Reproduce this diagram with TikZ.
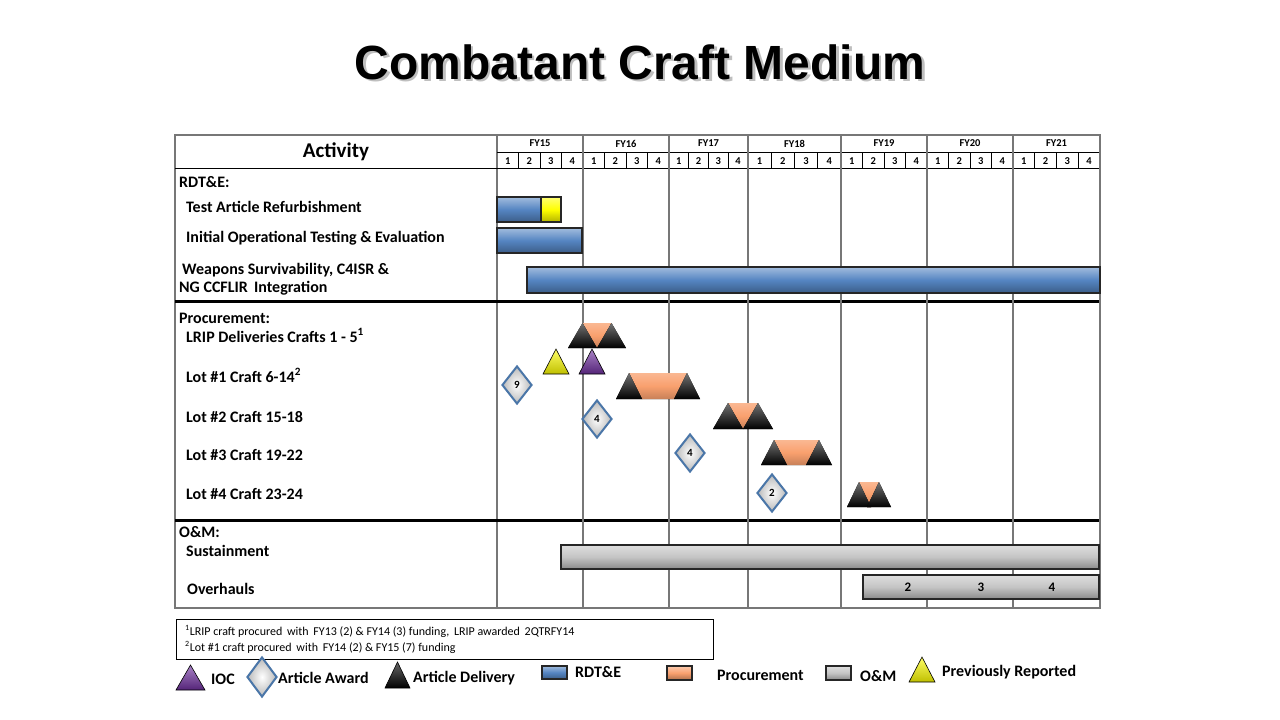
\documentclass[tikz,border=0pt]{standalone}
\usepackage{fontspec}
\setmainfont{Carlito}
\newfontfamily\titlefont{Liberation Sans}
\usepackage{tikz}
\usetikzlibrary{shapes.geometric, positioning}
\definecolor{rdtblue}{HTML}{5585C2}
\definecolor{procorange}{HTML}{F9A06E}
\definecolor{omgray}{HTML}{C4C4C4}
\definecolor{iocpurple}{HTML}{7030A0}
\definecolor{prevyellow}{HTML}{FFFF00}
\definecolor{awardblue}{HTML}{4A76A8}
\definecolor{gridgray}{HTML}{777777}

% one procurement delivery: left base, right base, triangle width, top, bottom
\newcommand{\craftdelivery}[5]{%
  \fill[top color=procorange!75!white, bottom color=procorange!80!black, middle color=procorange]
    (#1+#3/2,#4) -- (#2-#3/2,#4) -- (#2-#3,#5) -- (#1+#3,#5) -- cycle;
  \fill[top color=black!55, bottom color=black] (#1,#5) -- (#1+#3/2,#4) -- (#1+#3,#5) -- cycle;
  \fill[top color=black!55, bottom color=black] (#2-#3,#5) -- (#2-#3/2,#4) -- (#2,#5) -- cycle;
}

\begin{document}
\begin{tikzpicture}[
  x=1pt, y=-1pt,
  lbl/.style={anchor=base west, inner sep=0pt, font=\bfseries\fontsize{16}{18}\selectfont},
  hdr/.style={inner sep=0pt, font=\bfseries\fontsize{10.5}{12}\selectfont},
  note/.style={anchor=base west, inner sep=0pt, font=\fontsize{12}{14}\selectfont},
  gridline/.style={draw=gridgray, line width=1.3pt},
  bar/.style={draw=black!85, line width=1.1pt, top color=#1!55!white, bottom color=#1!70!black, middle color=#1},
  award/.style={diamond, draw=awardblue, line width=2pt, minimum width=30pt, minimum height=38pt, inner sep=0pt,
    inner color=white, outer color=gray!55, font=\bfseries\fontsize{11}{12}\selectfont},
  marker/.style={draw=black, line width=0.6pt, top color=#1!60!white, bottom color=#1!75!black}
]
\useasboundingbox[fill=white] (0,0) rectangle (1280,720);

% title
\node[text=black!25] (titleshadow) at (642.5,64.5) {\titlefont\bfseries\fontsize{48}{56}\selectfont Combatant Craft Medium};
\node (title) at (640,62) {\titlefont\bfseries\fontsize{48}{56}\selectfont Combatant Craft Medium};

% table frame
\draw[gridline] (175,135) rectangle (1100,608);
\draw[gridline] (497,135) -- (497,608);
\draw[black, line width=1pt] (497,152) -- (1100,152);
\draw[black, line width=1pt] (175,168) -- (1100,168);
\draw[black, line width=3pt] (175,301) -- (1100,301);
\draw[black, line width=3pt] (175,520) -- (1100,520);
\node[font=\bfseries\fontsize{21}{24}\selectfont, inner sep=0pt] (activity) at (336,152) {Activity};

\foreach \xa/\xb/\fy in {497/583/15, 583/669/16, 669/748/17, 748/841/18, 841/927/19, 927/1013/20, 1013/1100/21} {
  \node[hdr] (fy\fy) at ({(\xa+\xb)/2},143.5) {FY\fy};
  \foreach \q in {1,...,4}
    \node[hdr] (q\fy-\q) at ({\xa+(\q-0.5)*(\xb-\xa)/4},161) {\q};
  \foreach \q in {1,2,3}
    \draw[black, line width=0.8pt] ({\xa+\q*(\xb-\xa)/4},152) -- ({\xa+\q*(\xb-\xa)/4},168);
  \draw[gridline] (\xb,135) -- (\xb,608);
}

% activity labels
\node[lbl] (rdte) at (179,187) {RDT\&E:};
\node[lbl] (refurb) at (186,212.5) {Test Article Refurbishment};
\node[lbl] (iote) at (186,242) {Initial Operational Testing \& Evaluation};
\node[lbl] (weapons) at (182,274) {Weapons Survivability, C4ISR \&};
\node[lbl] (ngccflir) at (179,292) {NG CCFLIR\, Integration};
\node[lbl] (proc) at (179,323) {Procurement:};
\node[lbl] (lrip) at (186,342) {LRIP Deliveries Crafts 1 - 5\textsuperscript{1}};
\node[lbl] (lot1) at (186,382) {Lot \#1 Craft 6-14\textsuperscript{2}};
\node[lbl] (lot2) at (186,422) {Lot \#2 Craft 15-18};
\node[lbl] (lot3) at (186,460) {Lot \#3 Craft 19-22};
\node[lbl] (lot4) at (186,499) {Lot \#4 Craft 23-24};
\node[lbl] (om) at (179,537) {O\&M:};
\node[lbl] (sustain) at (186,556) {Sustainment};
\node[lbl] (overhaul) at (187,594) {Overhauls};

% RDT&E bars
\draw[bar=rdtblue] (497,197) rectangle (541,222);
\draw[bar=prevyellow] (541,197) rectangle (561,222);
\draw[bar=rdtblue] (497,228) rectangle (582,253);
\draw[bar=rdtblue] (527,267) rectangle (1100,293);

% procurement
\craftdelivery{568}{626}{29}{323}{348}
\craftdelivery{616}{700}{26}{373}{399}
\craftdelivery{713}{773}{30}{403}{429}
\craftdelivery{761}{832}{26}{440}{465}
\craftdelivery{847}{891}{24}{482}{507}
\draw[marker=prevyellow] (543,374) -- (556,349) -- (569,374) -- cycle;
\draw[marker=iocpurple] (579,374) -- (592,349) -- (605,374) -- cycle;
\node[award] (award1) at (517,385) {9};
\node[award] (award2) at (597,419) {4};
\node[award] (award3) at (690,453) {4};
\node[award] (award4) at (772,493) {2};

% O&M bars
\draw[bar=omgray] (561,545) rectangle (1099,569);
\draw[bar=omgray] (863,575) rectangle (1099,599);
\node[font=\bfseries\fontsize{13}{14}\selectfont] (oh2) at (908,587) {2};
\node[font=\bfseries\fontsize{13}{14}\selectfont] (oh3) at (981,587) {3};
\node[font=\bfseries\fontsize{13}{14}\selectfont] (oh4) at (1052,587) {4};

% footnotes
\draw[black, line width=1pt] (176,619) rectangle (713,659);
\node[note] (fn1) at (185,635) {\textsuperscript{1}LRIP craft procured\, with\, FY13 (2) \& FY14 (3) funding,\, LRIP awarded\, 2QTRFY14};
\node[note] (fn2) at (185,651) {\textsuperscript{2}Lot \#1 craft procured\, with\, FY14 (2) \& FY15 (7) funding};

% legend
\draw[marker=iocpurple] (176,690) -- (190.5,665) -- (205,690) -- cycle;
\node[lbl] (lgioc) at (211,684) {IOC};
\node[award, minimum width=30pt, minimum height=40pt] (lgaward) at (262,677) {};
\node[lbl] (lgawardtxt) at (278,683) {Article Award};
\draw[marker=black] (385,688) -- (397.5,662) -- (410,688) -- cycle;
\node[lbl] (lgdel) at (413,682) {Article Delivery};
\draw[bar=rdtblue] (542,666) rectangle (567,679);
\node[lbl] (lgrdte) at (575,677) {RDT\&E};
\draw[bar=procorange] (667,666) rectangle (692,680);
\node[lbl] (lgproc) at (717,680) {Procurement};
\draw[bar=omgray] (826,666) rectangle (851,680);
\node[lbl] (lgom) at (860,681) {O\&M};
\draw[marker=prevyellow] (909,682) -- (922,657) -- (935,682) -- cycle;
\node[lbl] (lgprev) at (942,676) {Previously Reported};
\end{tikzpicture}
\end{document}
